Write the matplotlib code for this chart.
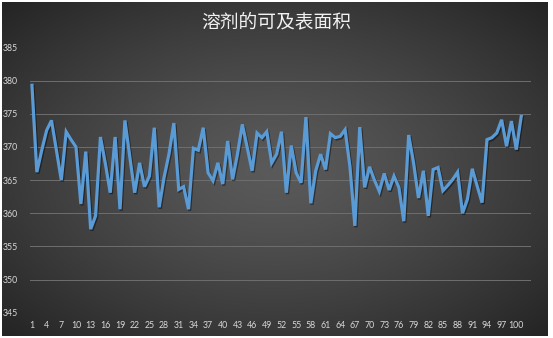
import numpy as np
import matplotlib
matplotlib.use("Agg")
import matplotlib.pyplot as plt
import matplotlib.patheffects as pe

title = "溶剂的可及表面积"
values = [379.3, 366.2, 369.5, 372.5, 374.0, 369.5, 365.0, 372.3, 371.1, 370.0,
          361.4, 369.3, 357.6, 359.6, 371.5, 367.5, 363.1, 371.5, 360.6, 374.0,
          368.5, 363.1, 367.6, 364.0, 365.6, 372.9, 360.9, 365.4, 368.9, 373.6,
          363.6, 364.0, 360.6, 369.8, 369.5, 372.9, 366.1, 364.9, 367.6, 364.4,
          370.9, 365.1, 368.9, 373.4, 369.9, 366.4, 372.1, 371.4, 372.3, 367.6,
          368.9, 372.3, 363.1, 370.2, 366.1, 364.6, 374.5, 361.5, 366.4, 368.9,
          366.6, 372.0, 371.4, 371.6, 372.6, 367.0, 358.1, 373.0, 363.9, 367.0,
          365.0, 363.3, 366.0, 363.5, 365.6, 363.9, 358.8, 371.8, 367.6, 362.3,
          366.4, 359.6, 366.6, 366.9, 363.4, 364.2, 365.1, 366.2, 360.0, 362.1,
          366.7, 364.1, 361.6, 371.1, 371.4, 372.1, 374.1, 370.1, 373.9, 369.6,
          374.6]
categories = list(range(1, len(values) + 1))
xtick_labels = list(range(1, 101, 3))
ytick_values = list(range(345, 386, 5))

W, H = 553, 338
fig = plt.figure(figsize=(W / 100, H / 100), dpi=100)
fig.patch.set_facecolor("white")

# background panel with radial gradient
bg = fig.add_axes([2 / W, 2 / H, 546 / W, 334 / H])
bg.set_axis_off()
ny, nx = 200, 330
yy, xx = np.mgrid[-1:1:ny * 1j, -1:1:nx * 1j]
r = np.sqrt(xx ** 2 + yy ** 2) / np.sqrt(2)
light = np.array([0x5a, 0x5a, 0x5a]) / 255
dark = np.array([0x24, 0x24, 0x24]) / 255
t = np.clip(r, 0, 1) ** 1.3
img = light[None, None, :] * (1 - t[..., None]) + dark[None, None, :] * t[..., None]
bg.imshow(img, aspect="auto", extent=[0, 1, 0, 1], interpolation="bilinear")
bg.set_xlim(0, 1)
bg.set_ylim(0, 1)

# plot area
left, right = 30, 531
top, bottom = 47.5, 312.7
ax = fig.add_axes([left / W, (H - bottom) / H, (right - left) / W, (bottom - top) / H])
ax.patch.set_alpha(0)
ax.plot(categories, values, color="#5B9BD5", linewidth=2.3, solid_joinstyle="miter",
        path_effects=[pe.SimpleLineShadow(offset=(0.8, -1.0), shadow_color="black", alpha=0.45),
                      pe.Normal()], zorder=3)
ax.set_xlim(0.6, 103.0)
ax.set_ylim(345, 385)
ax.set_yticks(ytick_values)
ax.set_xticks(xtick_labels)
ax.set_xticklabels([str(v) for v in xtick_labels])
ax.grid(axis="y", color="#6e6e6e", linewidth=0.7, zorder=0)
ax.grid(axis="x", visible=False)
for s in ax.spines.values():
    s.set_visible(False)
ax.tick_params(axis="both", length=0, colors="#d9d9d9", labelsize=6.3)
ax.tick_params(axis="y", pad=9)
ax.tick_params(axis="x", pad=6)
for lab in ax.get_xticklabels() + ax.get_yticklabels():
    lab.set_family(["Lato", "DejaVu Sans"])

fig.text(276 / W, 1 - 22 / H, title, ha="center", va="center", color="#f2f2f2",
         fontsize=13.5, family=["Noto Sans CJK SC", "DejaVu Sans"])

fig.savefig("out.png", dpi=100)
